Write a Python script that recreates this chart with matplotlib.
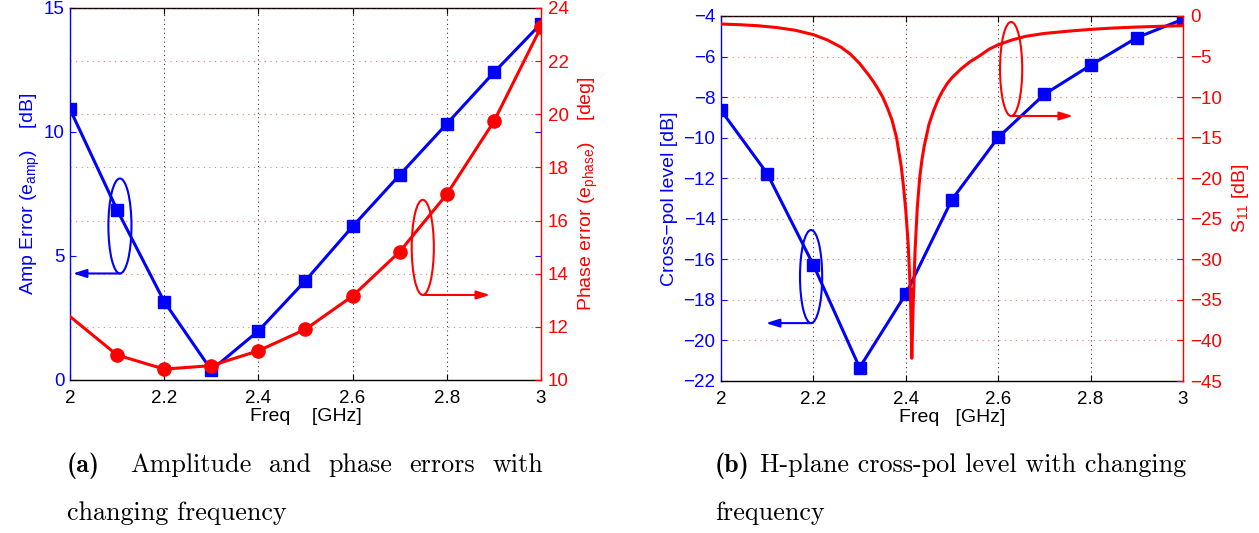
import numpy as np
import matplotlib
matplotlib.use('Agg')
import matplotlib.pyplot as plt
from matplotlib.patches import Ellipse
from matplotlib.ticker import FuncFormatter

# ---- data ----
freq = [2.0, 2.1, 2.2, 2.3, 2.4, 2.5, 2.6, 2.7, 2.8, 2.9, 3.0]
amp_err = [10.92, 6.86, 3.16, 0.40, 1.98, 4.01, 6.19, 8.27, 10.33, 12.40, 14.37]
phase_err = [12.39, 10.94, 10.41, 10.54, 11.10, 11.91, 13.16, 14.83, 16.99, 19.73, 23.28]
xpol = [-8.65, -11.77, -16.28, -21.34, -17.71, -13.05, -9.99, -7.86, -6.43, -5.07, -4.16]

s11_freq = [2.00, 2.04, 2.08, 2.12, 2.16, 2.20, 2.23, 2.26, 2.28, 2.30, 2.32, 2.33,
            2.34, 2.35, 2.36, 2.37, 2.38, 2.39, 2.395, 2.40, 2.405, 2.41, 2.413,
            2.416, 2.42, 2.425, 2.43, 2.435, 2.44, 2.45, 2.46, 2.47, 2.48, 2.49,
            2.50, 2.52, 2.54, 2.56, 2.58, 2.60, 2.63, 2.66, 2.70, 2.75, 2.80,
            2.85, 2.90, 2.95, 3.00]
s11 = [-0.99, -1.07, -1.20, -1.42, -1.75, -2.30, -2.95, -3.85, -4.70, -5.85, -7.30, -8.10,
       -9.00, -10.0, -11.3, -12.8, -15.0, -18.5, -21.0, -24.0, -28.0, -34.0, -42.2,
       -35.5, -29.0, -23.5, -20.0, -17.7, -16.0, -13.4, -11.7, -10.3, -9.2, -8.3,
       -7.6, -6.5, -5.6, -4.9, -4.1, -3.55, -2.95, -2.5, -2.15, -1.88, -1.65,
       -1.48, -1.36, -1.27, -1.19]

BLUE = (0, 0, 1)
RED = (1, 0, 0)
TICK_FS = 13.5
LAB_FS = 14
plt.rcParams['font.family'] = ['Liberation Sans', 'DejaVu Sans']
plt.rcParams['mathtext.default'] = 'regular'

W, H = 1259, 533
fig = plt.figure(figsize=(W / 100, H / 100), dpi=100)


def px_axes(l, t, r, b):
    return fig.add_axes([l / W, 1 - b / H, (r - l) / W, (b - t) / H])


def style_pair(ax, ax2, ylim1, yt1, ylim2, yt2):
    ax.set_xlim(2, 3)
    ax.set_xticks(np.arange(2, 3.01, 0.2))
    ax.xaxis.set_major_formatter(FuncFormatter(lambda v, p: '%g' % round(v, 2)))
    ax.set_ylim(*ylim1)
    ax.set_yticks(yt1)
    ax2.set_ylim(*ylim2)
    ax2.set_yticks(yt2)
    ax.tick_params(axis='x', direction='in', length=4, width=0.8, colors='black',
                   labelsize=TICK_FS, pad=7, top=True)
    ax.tick_params(axis='y', direction='in', length=4, width=0.8, colors=BLUE,
                   labelsize=TICK_FS, pad=4, right=True)
    ax2.tick_params(axis='y', direction='in', length=4, width=0.8, colors=RED,
                    labelsize=TICK_FS, pad=5)
    ax.xaxis.grid(True, color='black', linestyle=(0, (1, 3)), linewidth=0.8, alpha=0.8)
    ax2.yaxis.grid(True, color=RED, linestyle=(0, (1, 4)), linewidth=0.8, alpha=0.55)
    for s in ['top', 'bottom']:
        ax.spines[s].set_color('black')
    ax.spines['left'].set_color(BLUE)
    ax.spines['right'].set_visible(False)
    ax2.spines['left'].set_visible(False)
    ax2.spines['top'].set_visible(False)
    ax2.spines['bottom'].set_visible(False)
    ax2.spines['right'].set_color(RED)
    for sp in list(ax.spines.values()) + list(ax2.spines.values()):
        sp.set_linewidth(1.0)


def bracket(ax, xc, yc, w, h, x_end, color):
    ax.add_patch(Ellipse((xc, yc), w, h, fill=False, edgecolor=color, lw=1.5, zorder=5))
    y0 = yc - h / 2
    ax.annotate('', xy=(x_end, y0), xytext=(xc, y0),
                arrowprops=dict(arrowstyle='-|>,head_length=0.8,head_width=0.25',
                                color=color, lw=1.5, shrinkA=0, shrinkB=0), zorder=5)


# ---- (a) amplitude / phase error ----
ax1 = px_axes(70, 8, 541, 380)
ax2 = ax1.twinx()
ax1.plot(freq, amp_err, color=BLUE, lw=2.2, marker='s', ms=8.5, mfc=BLUE, mec=BLUE)
ax2.plot(freq, phase_err, color=RED, lw=2.2, marker='o', ms=9.5, mfc=RED, mec=RED,
         markevery=slice(1, None))
style_pair(ax1, ax2, (0, 15), [0, 5, 10, 15], (10, 24), np.arange(10, 25, 2))
ax1.set_xlabel('Freq    [GHz]', fontsize=LAB_FS, labelpad=1)
ax1.set_ylabel('Amp Error (e$_{amp}$)    [dB]', fontsize=LAB_FS, color=BLUE, labelpad=1)
ax2.set_ylabel('Phase error (e$_{phase}$)    [deg]', fontsize=LAB_FS, color=RED, labelpad=6)
bracket(ax1, 2.106, 6.21, 0.049, 3.83, 2.006, BLUE)
bracket(ax2, 2.749, 14.99, 0.047, 3.58, 2.892, RED)

# ---- (b) cross-pol level / S11 ----
ax3 = px_axes(721, 16, 1183, 381)
ax4 = ax3.twinx()
ax3.plot(freq, xpol, color=BLUE, lw=2.2, marker='s', ms=8.5, mfc=BLUE, mec=BLUE)
ax4.plot(s11_freq, s11, color=RED, lw=2.2)
style_pair(ax3, ax4, (-22, -4), np.arange(-22, -3, 2), (-45, 0), np.arange(-45, 1, 5))
ax3.set_xlabel('Freq   [GHz]', fontsize=LAB_FS, labelpad=1)
ax3.set_ylabel('Cross\u2212pol level [dB]', fontsize=LAB_FS, color=BLUE, labelpad=4)
ax4.set_ylabel('S$_{11}$ [dB]', fontsize=LAB_FS, color=RED, labelpad=6)
bracket(ax3, 2.195, -16.85, 0.048, 4.59, 2.097, BLUE)
bracket(ax4, 2.628, -6.53, 0.048, 11.6, 2.762, RED)

# ---- captions ----
CAP_FS = 18.8
y1 = 1 - 472 / H
y2 = 1 - 520 / H
fig.text(67 / W, y1, '(a)', fontfamily='cmb10', fontsize=CAP_FS, va='baseline')
words = ['Amplitude', 'and', 'phase', 'errors', 'with']
texts = [fig.text(0, y1, w_, fontfamily='cmr10', fontsize=CAP_FS, va='baseline') for w_ in words]
tb = fig.text(715 / W, y1, '(b)', fontfamily='cmb10', fontsize=CAP_FS, va='baseline')
tb_rest = fig.text(0, y1, 'H-plane cross-pol level with changing', fontfamily='cmr10',
                   fontsize=CAP_FS, va='baseline')
fig.canvas.draw()
r = fig.canvas.get_renderer()
widths = [t.get_window_extent(r).width for t in texts]
x_start, x_stop = 130, 543
gap = (x_stop - x_start - sum(widths)) / (len(words) - 1)
x = x_start
for t, wd in zip(texts, widths):
    t.set_x(x / W)
    x += wd + gap
tb_rest.set_x((tb.get_window_extent(r).x1 + 10) / W)
fig.text(67 / W, y2, 'changing frequency', fontfamily='cmr10', fontsize=CAP_FS, va='baseline')
fig.text(715 / W, y2, 'frequency', fontfamily='cmr10', fontsize=CAP_FS, va='baseline')

fig.savefig('out.png', dpi=100)
